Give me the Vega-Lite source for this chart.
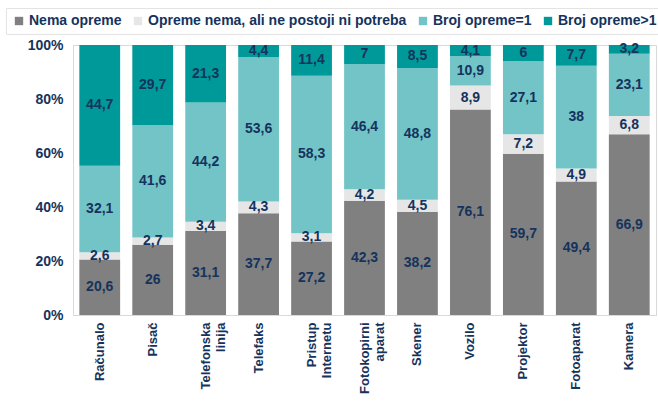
{
  "$schema": "https://vega.github.io/schema/vega-lite/v6.json",
  "width": 583,
  "height": 270,
  "autosize": "none",
  "padding": {"left": 73, "top": 45, "right": 2, "bottom": 87},
  "background": "white",
  "config": {
    "view": {"stroke": "#d9d9d9", "strokeWidth": 1},
    "font": "Liberation Sans"
  },
  "data": {
    "values": [
      {"cat": "Računalo", "s": "Nema opreme", "o": 1, "v": 20.6},
      {"cat": "Računalo", "s": "Opreme nema, ali ne postoji ni potreba", "o": 2, "v": 2.6},
      {"cat": "Računalo", "s": "Broj opreme=1", "o": 3, "v": 32.1},
      {"cat": "Računalo", "s": "Broj opreme>1", "o": 4, "v": 44.7},
      {"cat": "Pisač", "s": "Nema opreme", "o": 1, "v": 26},
      {"cat": "Pisač", "s": "Opreme nema, ali ne postoji ni potreba", "o": 2, "v": 2.7},
      {"cat": "Pisač", "s": "Broj opreme=1", "o": 3, "v": 41.6},
      {"cat": "Pisač", "s": "Broj opreme>1", "o": 4, "v": 29.7},
      {"cat": "Telefonska|linija", "s": "Nema opreme", "o": 1, "v": 31.1},
      {"cat": "Telefonska|linija", "s": "Opreme nema, ali ne postoji ni potreba", "o": 2, "v": 3.4},
      {"cat": "Telefonska|linija", "s": "Broj opreme=1", "o": 3, "v": 44.2},
      {"cat": "Telefonska|linija", "s": "Broj opreme>1", "o": 4, "v": 21.3},
      {"cat": "Telefaks", "s": "Nema opreme", "o": 1, "v": 37.7},
      {"cat": "Telefaks", "s": "Opreme nema, ali ne postoji ni potreba", "o": 2, "v": 4.3},
      {"cat": "Telefaks", "s": "Broj opreme=1", "o": 3, "v": 53.6},
      {"cat": "Telefaks", "s": "Broj opreme>1", "o": 4, "v": 4.4},
      {"cat": "Pristup|Internetu", "s": "Nema opreme", "o": 1, "v": 27.2},
      {"cat": "Pristup|Internetu", "s": "Opreme nema, ali ne postoji ni potreba", "o": 2, "v": 3.1},
      {"cat": "Pristup|Internetu", "s": "Broj opreme=1", "o": 3, "v": 58.3},
      {"cat": "Pristup|Internetu", "s": "Broj opreme>1", "o": 4, "v": 11.4},
      {"cat": "Fotokopirni|aparat", "s": "Nema opreme", "o": 1, "v": 42.3},
      {"cat": "Fotokopirni|aparat", "s": "Opreme nema, ali ne postoji ni potreba", "o": 2, "v": 4.2},
      {"cat": "Fotokopirni|aparat", "s": "Broj opreme=1", "o": 3, "v": 46.4},
      {"cat": "Fotokopirni|aparat", "s": "Broj opreme>1", "o": 4, "v": 7},
      {"cat": "Skener", "s": "Nema opreme", "o": 1, "v": 38.2},
      {"cat": "Skener", "s": "Opreme nema, ali ne postoji ni potreba", "o": 2, "v": 4.5},
      {"cat": "Skener", "s": "Broj opreme=1", "o": 3, "v": 48.8},
      {"cat": "Skener", "s": "Broj opreme>1", "o": 4, "v": 8.5},
      {"cat": "Vozilo", "s": "Nema opreme", "o": 1, "v": 76.1},
      {"cat": "Vozilo", "s": "Opreme nema, ali ne postoji ni potreba", "o": 2, "v": 8.9},
      {"cat": "Vozilo", "s": "Broj opreme=1", "o": 3, "v": 10.9},
      {"cat": "Vozilo", "s": "Broj opreme>1", "o": 4, "v": 4.1},
      {"cat": "Projektor", "s": "Nema opreme", "o": 1, "v": 59.7},
      {"cat": "Projektor", "s": "Opreme nema, ali ne postoji ni potreba", "o": 2, "v": 7.2},
      {"cat": "Projektor", "s": "Broj opreme=1", "o": 3, "v": 27.1},
      {"cat": "Projektor", "s": "Broj opreme>1", "o": 4, "v": 6},
      {"cat": "Fotoaparat", "s": "Nema opreme", "o": 1, "v": 49.4},
      {"cat": "Fotoaparat", "s": "Opreme nema, ali ne postoji ni potreba", "o": 2, "v": 4.9},
      {"cat": "Fotoaparat", "s": "Broj opreme=1", "o": 3, "v": 38},
      {"cat": "Fotoaparat", "s": "Broj opreme>1", "o": 4, "v": 7.7},
      {"cat": "Kamera", "s": "Nema opreme", "o": 1, "v": 66.9},
      {"cat": "Kamera", "s": "Opreme nema, ali ne postoji ni potreba", "o": 2, "v": 6.8},
      {"cat": "Kamera", "s": "Broj opreme=1", "o": 3, "v": 23.1},
      {"cat": "Kamera", "s": "Broj opreme>1", "o": 4, "v": 3.2}
    ]
  },
  "transform": [
    {"stack": "v", "groupby": ["cat"], "sort": [{"field": "o"}], "offset": "normalize", "as": ["y0", "y1"]},
    {"calculate": "(datum.y0 + datum.y1) / 2", "as": "ym"},
    {"calculate": "replace(format(datum.v, '~r'), '.', ',')", "as": "lbl"}
  ],
  "encoding": {
    "x": {
      "field": "cat",
      "type": "nominal",
      "sort": null,
      "scale": {"paddingInner": 0.23, "paddingOuter": 0.12},
      "axis": {
        "title": null,
        "labelAngle": -90,
        "labelAlign": "right",
        "labelBaseline": "middle",
        "labelExpr": "split(datum.label, '|')",
        "labelFont": "Liberation Sans",
        "labelFontWeight": "bold",
        "labelFontSize": 13,
        "labelColor": "#15335C",
        "labelPadding": 7,
        "labelLineHeight": 15,
        "ticks": false,
        "domainColor": "#d9d9d9"
      }
    }
  },
  "layer": [
    {
      "mark": {"type": "bar"},
      "encoding": {
        "y": {
          "field": "y0",
          "type": "quantitative",
          "scale": {"domain": [0, 1]},
          "axis": {
            "title": null,
            "format": ".0%",
            "values": [0, 0.2, 0.4, 0.6, 0.8, 1],
            "grid": false,
            "ticks": false,
            "labelFont": "Liberation Sans",
            "labelFontWeight": "bold",
            "labelFontSize": 14,
            "labelColor": "#15335C",
            "labelPadding": 10,
            "domainColor": "#d9d9d9"
          }
        },
        "y2": {"field": "y1"},
        "color": {
          "field": "s",
          "type": "nominal",
          "sort": ["Nema opreme", "Opreme nema, ali ne postoji ni potreba", "Broj opreme=1", "Broj opreme>1"],
          "scale": {
            "domain": ["Nema opreme", "Opreme nema, ali ne postoji ni potreba", "Broj opreme=1", "Broj opreme>1"],
            "range": ["#808080", "#e6e6e6", "#72c4c7", "#009999"]
          },
          "legend": {
            "title": null,
            "orient": "none",
            "legendX": -67,
            "legendY": -37,
            "direction": "horizontal",
            "symbolType": "square",
            "symbolSize": 70,
            "symbolStrokeWidth": 0,
            "labelFont": "Liberation Sans",
            "labelFontWeight": "bold",
            "labelFontSize": 14,
            "labelColor": "#15335C",
            "labelOffset": 3,
            "columnPadding": 9,
            "labelLimit": 400,
            "strokeColor": "#e3e3e3",
            "padding": 6
          }
        }
      }
    },
    {
      "mark": {"type": "text", "font": "Liberation Sans", "fontWeight": "bold", "fontSize": 14, "color": "#15335C", "baseline": "middle"},
      "encoding": {
        "y": {"field": "ym", "type": "quantitative"},
        "text": {"field": "lbl"}
      }
    }
  ]
}
